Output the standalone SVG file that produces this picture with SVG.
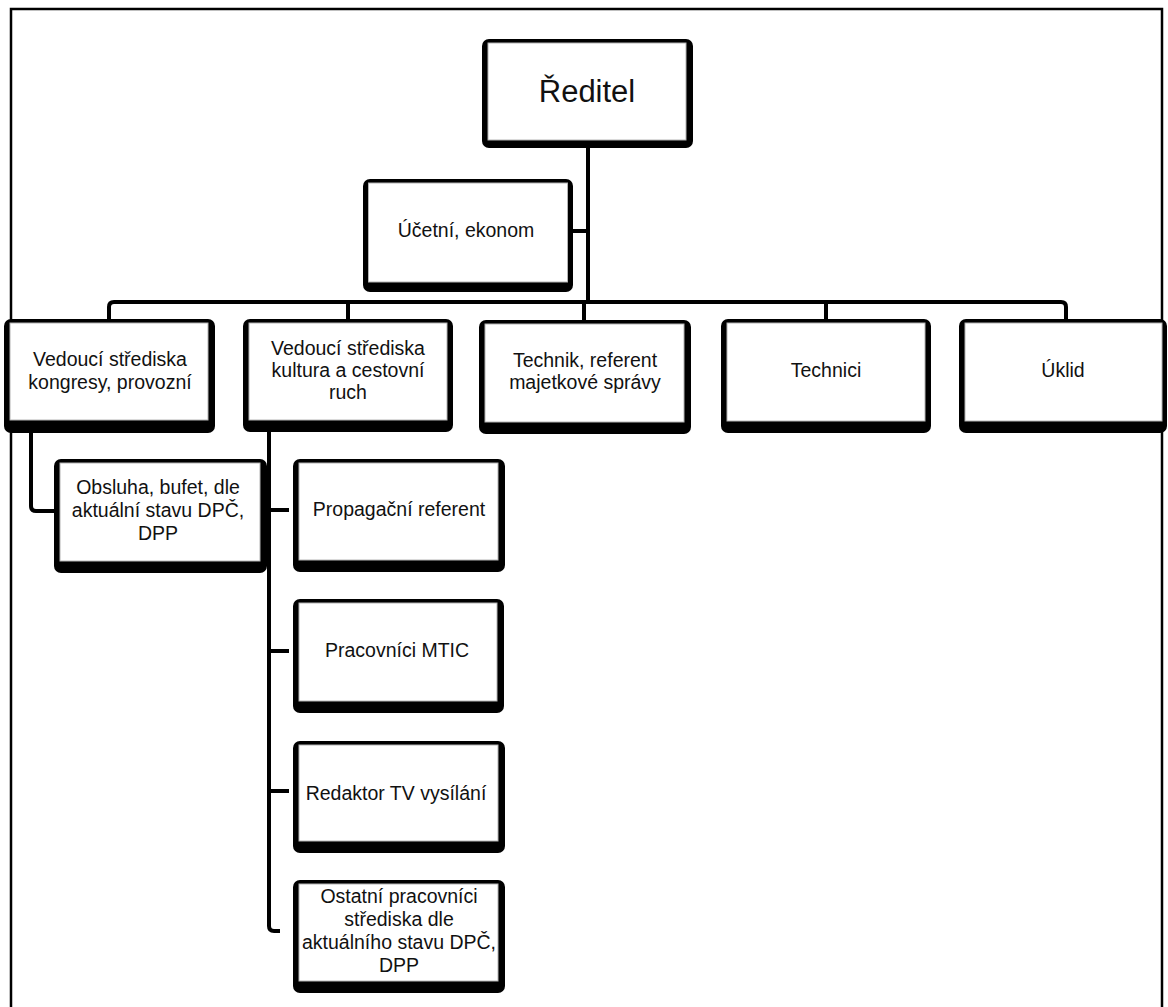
<svg xmlns="http://www.w3.org/2000/svg" width="1168" height="1007" viewBox="0 0 1168 1007">
  <style>
    .frame { fill: none; stroke: #000; stroke-width: 2.5; }
    .wire { fill: none; stroke: #000; stroke-width: 4; stroke-linejoin: round; }
    .outer { fill: #000; }
    .inner { fill: #fff; stroke: #b4b4b4; stroke-width: 1; }
    .lbl { font-family: "Liberation Sans", Arial, sans-serif; font-size: 19.5px; fill: #111; text-anchor: middle; }
    .big { font-size: 31px; }
  </style>

  <rect width="1168" height="1007" fill="#fff"/>

  <!-- page frame -->
  <path class="frame" d="M11 1010 V9 H1162 V1010"/>

  <!-- connectors -->
  <g id="connectors">
    <path class="wire" d="M588 148 V302"/>
    <path class="wire" d="M573 231 H588"/>
    <path class="wire" d="M109 319 V307 Q109 302 114 302 H1061 Q1066 302 1066 307 V319"/>
    <path class="wire" d="M348 302 V319"/>
    <path class="wire" d="M584 302 V320"/>
    <path class="wire" d="M826 302 V319"/>
    <path class="wire" d="M31 433 V506 Q31 511 36 511 H54"/>
    <path class="wire" d="M269 432 V926 Q269 931 274 931 H280"/>
    <path class="wire" d="M269 510 H289"/>
    <path class="wire" d="M269 651 H289"/>
    <path class="wire" d="M269 791 H289"/>
  </g>

  <!-- director -->
  <g id="reditel">
    <rect class="outer" x="482" y="39" width="211" height="109" rx="7"/>
    <rect class="inner" x="488" y="43" width="198" height="97"/>
    <text class="lbl big" x="587" y="102">Ředitel</text>
  </g>

  <g id="ucetni">
    <rect class="outer" x="363" y="179" width="210" height="113" rx="7"/>
    <rect class="inner" x="368.5" y="183" width="199" height="99"/>
    <text class="lbl" x="466" y="237">Účetní, ekonom</text>
  </g>

  <!-- second level -->
  <g id="vedouci-kongresy">
    <rect class="outer" x="4" y="319" width="211" height="114" rx="7"/>
    <rect class="inner" x="10" y="323" width="198" height="97"/>
    <text class="lbl" x="110" y="366">Vedoucí střediska</text>
    <text class="lbl" x="110" y="389">kongresy, provozní</text>
  </g>

  <g id="vedouci-kultura">
    <rect class="outer" x="243" y="319" width="210" height="113" rx="7"/>
    <rect class="inner" x="249" y="323" width="198" height="97"/>
    <text class="lbl" x="348" y="355">Vedoucí střediska</text>
    <text class="lbl" x="348" y="377">kultura a cestovní</text>
    <text class="lbl" x="348" y="399">ruch</text>
  </g>

  <g id="technik">
    <rect class="outer" x="479" y="320" width="212" height="114" rx="7"/>
    <rect class="inner" x="485" y="324" width="199" height="98"/>
    <text class="lbl" x="585" y="367">Technik, referent</text>
    <text class="lbl" x="585" y="389">majetkové správy</text>
  </g>

  <g id="technici">
    <rect class="outer" x="721" y="319" width="210" height="114" rx="7"/>
    <rect class="inner" x="727" y="323" width="198" height="98"/>
    <text class="lbl" x="826" y="377">Technici</text>
  </g>

  <g id="uklid">
    <rect class="outer" x="959" y="319" width="208" height="114" rx="7"/>
    <rect class="inner" x="965" y="323" width="197" height="98"/>
    <text class="lbl" x="1063" y="377">Úklid</text>
  </g>

  <!-- third level -->
  <g id="obsluha">
    <rect class="outer" x="54" y="459" width="213" height="114" rx="7"/>
    <rect class="inner" x="60" y="463" width="200" height="98"/>
    <text class="lbl" x="158" y="494">Obsluha, bufet, dle</text>
    <text class="lbl" x="158" y="517">aktuální stavu DPČ,</text>
    <text class="lbl" x="158" y="540">DPP</text>
  </g>

  <g id="propagacni">
    <rect class="outer" x="293" y="459" width="212" height="113" rx="7"/>
    <rect class="inner" x="299" y="463" width="199" height="97"/>
    <text class="lbl" x="399" y="516">Propagační referent</text>
  </g>

  <g id="mtic">
    <rect class="outer" x="293" y="599" width="211" height="114" rx="7"/>
    <rect class="inner" x="299" y="603" width="198" height="98"/>
    <text class="lbl" x="397" y="657">Pracovníci MTIC</text>
  </g>

  <g id="redaktor">
    <rect class="outer" x="293" y="741" width="212" height="112" rx="7"/>
    <rect class="inner" x="299" y="745" width="199" height="96"/>
    <text class="lbl" x="396" y="800">Redaktor TV vysílání</text>
  </g>

  <g id="ostatni">
    <rect class="outer" x="293" y="880" width="212" height="113" rx="7"/>
    <rect class="inner" x="299" y="884" width="199" height="97"/>
    <text class="lbl" x="399" y="903">Ostatní pracovníci</text>
    <text class="lbl" x="399" y="926">střediska dle</text>
    <text class="lbl" x="399" y="949">aktuálního stavu DPČ,</text>
    <text class="lbl" x="399" y="972">DPP</text>
  </g>
</svg>
